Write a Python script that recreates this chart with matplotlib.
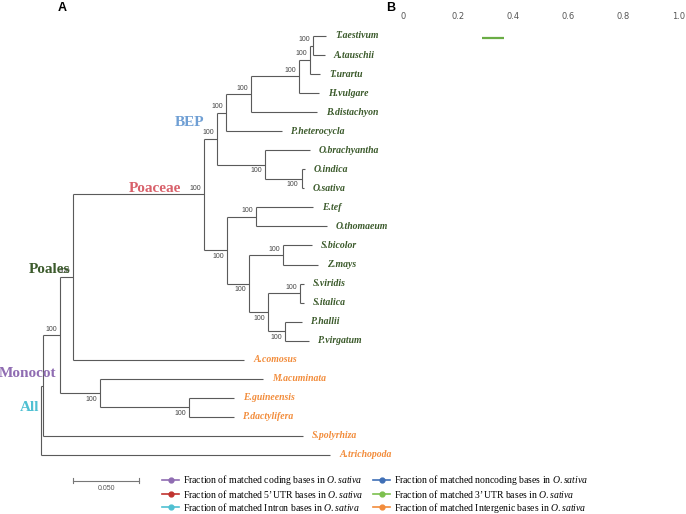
import matplotlib
matplotlib.use("Agg")
import matplotlib.pyplot as plt
from matplotlib.lines import Line2D

plt.rcParams['mathtext.fontset'] = 'custom'
plt.rcParams['mathtext.rm'] = 'Liberation Serif'
plt.rcParams['mathtext.it'] = 'Liberation Serif:italic'

# ---------------- tree data (parent list with branch lengths) ----------------
node_names = ['root', 'monocot', 'commelinid', 'poales', 'poaceae', 'bep', 'pb', 'pooideae',
              'triticeae', 'ta', 'ta2', 'T.aestivum', 'A.tauschii', 'T.urartu', 'H.vulgare',
              'B.distachyon', 'P.heterocycla', 'oryzeae', 'O.brachyantha', 'oryza', 'O.indica',
              'O.sativa', 'pacmad', 'chlor', 'E.tef', 'O.thomaeum', 'panicoid', 'andro',
              'S.bicolor', 'Z.mays', 'paniceae', 'setaria', 'S.viridis', 'S.italica', 'panicum',
              'P.hallii', 'P.virgatum', 'A.comosus', 'zing_arec', 'M.acuminata', 'palms',
              'E.guineensis', 'P.dactylifera', 'S.polyrhiza', 'A.trichopoda']
node_parents = [None, 'root', 'monocot', 'commelinid', 'poales', 'poaceae', 'bep', 'pb',
                'pooideae', 'triticeae', 'ta', 'ta2', 'ta2', 'ta', 'triticeae',
                'pooideae', 'pb', 'bep', 'oryzeae', 'oryzeae', 'oryza',
                'oryza', 'poaceae', 'pacmad', 'chlor', 'chlor', 'pacmad', 'panicoid',
                'andro', 'andro', 'panicoid', 'paniceae', 'setaria', 'setaria', 'paniceae',
                'panicum', 'panicum', 'poales', 'commelinid', 'zing_arec', 'zing_arec',
                'palms', 'palms', 'monocot', 'root']
branch_lengths = [0.0, 0.0018, 0.0130, 0.0097, 0.1004, 0.0099, 0.0067, 0.0191,
                  0.0369, 0.0084, 0.0025, 0.0097, 0.0087, 0.0076, 0.0153,
                  0.0507, 0.0428, 0.0367, 0.0344, 0.0279, 0.0027,
                  0.0019, 0.0176, 0.0219, 0.0438, 0.0543, 0.0170, 0.0255,
                  0.0222, 0.0272, 0.0141, 0.0247, 0.0027, 0.0027, 0.0132,
                  0.0128, 0.0183, 0.1310, 0.0306, 0.1246, 0.0680,
                  0.0344, 0.0344, 0.1988, 0.2212]
bootstrap_nodes = ['ta2', 'ta', 'triticeae', 'pooideae', 'pb', 'bep', 'oryzeae', 'oryza',
                   'poaceae', 'pacmad', 'chlor', 'panicoid', 'andro', 'paniceae', 'setaria',
                   'panicum', 'poales', 'commelinid', 'zing_arec', 'palms']
bootstrap_values = [100] * len(bootstrap_nodes)
green_group_root = 'poaceae'

clade_names = ['BEP', 'Poaceae', 'Poales', 'Monocot', 'All']
clade_nodes = ['bep', 'poaceae', 'poales', 'monocot', 'root']
clade_colors = ['#6f9fd4', '#d8606a', '#3b5a2b', '#8f6cb2', '#4fc0d2']

# panel B data
b_species = ['T.aestivum']
b_low = [0.287]
b_high = [0.368]
b_ticks = [0, 0.2, 0.4, 0.6, 0.8, 1.0]
b_ticklabels = ['0', '0.2', '0.4', '0.6', '0.8', '1.0']

legend_labels = ['Fraction of matched coding bases in $\\mathit{O.sativa}$',
                 'Fraction of matched 5\u2019UTR bases in $\\mathit{O.sativa}$',
                 'Fraction of matched Intron bases in $\\mathit{O.sativa}$',
                 'Fraction of matched noncoding bases in $\\mathit{O.sativa}$',
                 'Fraction of matched 3\u2019UTR bases in $\\mathit{O.sativa}$',
                 'Fraction of matched Intergenic bases in $\\mathit{O.sativa}$']
legend_colors = ['#8f6cb2', '#c0332f', '#4fc0d2', '#3f6fb6', '#7cc04e', '#f28c3b']
scale_length = 0.05

# ---------------- layout ----------------
children = {n: [] for n in node_names}
blen = dict(zip(node_names, branch_lengths))
for n, p in zip(node_names, node_parents):
    if p is not None:
        children[p].append(n)

xpos, ypos = {}, {}
leaf_order = []

def layout(n, x):
    xpos[n] = x
    for c in children[n]:
        layout(c, x + blen[c])
    if not children[n]:
        ypos[n] = len(leaf_order)
        leaf_order.append(n)

def layout_y(n):
    for c in children[n]:
        layout_y(c)
    if children[n]:
        ypos[n] = 0.5 * (ypos[children[n][0]] + ypos[children[n][-1]])

layout('root', 0.0)
layout_y('root')

def descendants(n):
    out = [n]
    for c in children[n]:
        out += descendants(c)
    return out
green_set = set(descendants(green_group_root))

W, H = 686, 514
fig = plt.figure(figsize=(W / 100, H / 100), dpi=100)
px_per_unit = 1308.0
root_px = 40.7
leaf0_px, leaf_step = 36.0, 19.045
ax = fig.add_axes([0, 0, 1, 1])
ax.set_xlim(-root_px / px_per_unit, (W - root_px) / px_per_unit)
ax.set_ylim((H - leaf0_px) / leaf_step, -leaf0_px / leaf_step)
ax.axis('off')

lc = '#5a5a5a'
lw = 0.8
for n, p in zip(node_names, node_parents):
    if p is not None:
        ax.plot([xpos[p], xpos[n]], [ypos[n], ypos[n]], color=lc, lw=lw, solid_capstyle='butt')
    if children[n]:
        ys = [ypos[c] for c in children[n]]
        ax.plot([xpos[n], xpos[n]], [min(ys), max(ys)], color=lc, lw=lw, solid_capstyle='butt')

# leaf labels
for n in leaf_order:
    col = '#3b5a2b' if n in green_set else '#f28c3b'
    ax.annotate(n, (xpos[n], ypos[n]), xytext=(9, 0), textcoords='offset pixels',
                ha='left', va='center', fontsize=7, fontweight='bold', fontstyle='italic',
                family='Liberation Serif', color=col)

# bootstrap labels
for n, v in zip(bootstrap_nodes, bootstrap_values):
    p = node_parents[node_names.index(n)]
    upper = ypos[n] <= ypos[p]
    dy = 6 if upper else -6
    ax.annotate(str(v), (xpos[n], ypos[n]), xytext=(-3, dy), textcoords='offset pixels',
                ha='right', va='center', fontsize=5, family='Liberation Sans', color='#444444')

# clade labels
clade_offsets = [(-27, 12.6), (-49.5, 2), (-23.2, 4), (-15, 8.5), (-10.7, 9)]
for name, nd, colr, off in zip(clade_names, clade_nodes, clade_colors, clade_offsets):
    ax.annotate(name, (xpos[nd], ypos[nd]), xytext=off, textcoords='offset pixels',
                ha='center', va='baseline', fontsize=11, fontweight='bold',
                family='Liberation Serif', color=colr)

# scale bar
sb_x0 = (73.3 - root_px) / px_per_unit
sb_y = (480.7 - leaf0_px) / leaf_step
ax.plot([sb_x0, sb_x0 + scale_length], [sb_y, sb_y], color='#777777', lw=0.8)
for xx in (sb_x0, sb_x0 + scale_length):
    ax.plot([xx, xx], [sb_y - 0.12, sb_y + 0.12], color='#777777', lw=0.8)
ax.annotate('%.3f' % scale_length, (sb_x0 + scale_length / 2, sb_y), xytext=(0, -8),
            textcoords='offset pixels', ha='center', va='center', fontsize=5,
            family='Liberation Sans', color='#555555')

# panel labels
fig.text(62 / W, 1 - 8 / H, 'A', ha='center', va='center', fontsize=9, fontweight='bold',
         family='Liberation Sans')
fig.text(391 / W, 1 - 8 / H, 'B', ha='center', va='center', fontsize=9, fontweight='bold',
         family='Liberation Sans')

# ---------------- panel B ----------------
bx0, bx1, btop = 402.7, 678.3, 23.0
axb = fig.add_axes([bx0 / W, 0, (bx1 - bx0) / W, (H - btop) / H])
axb.set_xlim(0, 1)
axb.set_ylim((H - leaf0_px) / leaf_step, (btop - leaf0_px) / leaf_step)
axb.patch.set_alpha(0)
for s in axb.spines.values():
    s.set_visible(False)
axb.xaxis.tick_top()
axb.set_xticks(b_ticks)
axb.set_xticklabels(b_ticklabels)
axb.tick_params(axis='x', length=0, pad=1.5, labelsize=6, labelcolor='#555555')
axb.set_yticks([])
for sp, lo, hi in zip(b_species, b_low, b_high):
    yy = ypos[sp]
    axb.plot([lo, hi], [yy + 0.1, yy + 0.1], color='#6aad45', lw=1.6, solid_capstyle='butt')

# legend
handles = [Line2D([], [], color=c, marker='o', markersize=3.5, lw=1.2) for c in legend_colors]
leg = fig.legend(handles, legend_labels, ncol=2, loc='upper left',
                 bbox_to_anchor=(162 / W, 1 - 473 / H), frameon=False,
                 prop={'family': 'Liberation Serif', 'size': 7},
                 handlelength=1.75, handletextpad=0.4, columnspacing=1.0,
                 labelspacing=0.08, borderpad=0, borderaxespad=0)

fig.savefig('out.png', dpi=100)
